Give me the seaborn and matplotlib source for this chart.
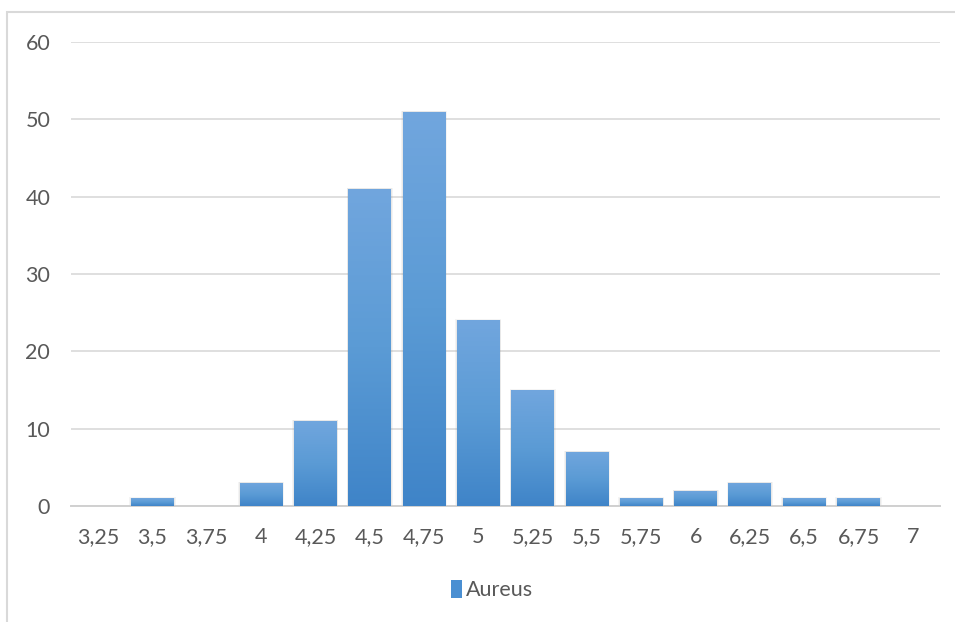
import matplotlib
matplotlib.use("Agg")
import matplotlib.pyplot as plt
import seaborn as sns
import numpy as np
import pandas as pd
from matplotlib.patches import Rectangle, Patch
from matplotlib.colors import LinearSegmentedColormap

categories = ["3,25", "3,5", "3,75", "4", "4,25", "4,5", "4,75", "5",
              "5,25", "5,5", "5,75", "6", "6,25", "6,5", "6,75", "7"]
values = [0, 1, 0, 3, 11, 41, 51, 24, 15, 7, 1, 2, 3, 1, 1, 0]
series_name = "Aureus"
yticks = [0, 10, 20, 30, 40, 50, 60]

df = pd.DataFrame({"cat": categories, "val": values})

sns.set_theme(style="white")
plt.rcParams["font.family"] = ["Lato", "DejaVu Sans"]

W, H = 955, 622
fig = plt.figure(figsize=(W / 100, H / 100), dpi=100)
fig.patch.set_facecolor("white")

# outer frame
fig.add_artist(Rectangle((7 / W, -0.05), 1.2, 1 - 12 / H + 0.05,
                         transform=fig.transFigure, fill=False,
                         edgecolor="#d9d9d9", linewidth=1.5, zorder=0))

ax = fig.add_axes([71 / W, 1 - 506 / H, (940 - 71) / W, (506 - 42) / H])
ax.set_facecolor("none")

sns.barplot(data=df, x="cat", y="val", order=categories, color="#5b9bd5",
            width=0.79, ax=ax, zorder=3, edgecolor="none")

ax.set_ylim(0, 60)
ax.set_xlim(-0.5, len(categories) - 0.5)
ax.set_yticks(yticks)
ax.set_yticklabels([str(t) for t in yticks])
ax.yaxis.grid(True, color="#d9d9d9", linewidth=1.2, zorder=0)
ax.set_axisbelow(True)
for s in ["left", "right", "top"]:
    ax.spines[s].set_visible(False)
ax.spines["bottom"].set_color("#d0d0d0")
ax.spines["bottom"].set_linewidth(1.4)
ax.spines["bottom"].set_zorder(2)
ax.set_xlabel("")
ax.set_ylabel("")
ax.tick_params(axis="both", length=0, labelsize=15.5, labelcolor="#595959")
ax.tick_params(axis="x", pad=15)
ax.tick_params(axis="y", pad=15)
for lab in ax.get_yticklabels():
    lab.set_horizontalalignment("right")

# gradient fill + soft shadow
cmap = LinearSegmentedColormap.from_list("g", ["#3f84c8", "#5b9bd5", "#71a6de"])
grad = np.linspace(0, 1, 256).reshape(-1, 1)
for p in list(ax.patches):
    x0, y0 = p.get_x(), p.get_y()
    w, h = p.get_width(), p.get_height()
    if h <= 0:
        continue
    for k, a in [(0.03, 0.08), (0.015, 0.10)]:
        sh = Rectangle((x0 - k, y0), w + 2 * k, h + k * 4,
                       facecolor="#7f7f7f", alpha=a, edgecolor="none", zorder=2)
        ax.add_patch(sh)
    im = ax.imshow(grad, extent=[x0, x0 + w, y0, y0 + h], origin="lower",
                   cmap=cmap, aspect="auto", zorder=3.5)
    im.set_clip_path(p)
ax.set_xlim(-0.5, len(categories) - 0.5)
ax.set_ylim(0, 60)

handle = Patch(facecolor="#4a8fd2", edgecolor="none")
fig.legend([handle], [series_name], loc="center", bbox_to_anchor=(492 / W, 1 - 590 / H),
           frameon=False, fontsize=15.5, labelcolor="#595959", handlelength=0.5,
           handleheight=0.9, handletextpad=0.2)

fig.savefig("out.png", dpi=100, facecolor="white")
